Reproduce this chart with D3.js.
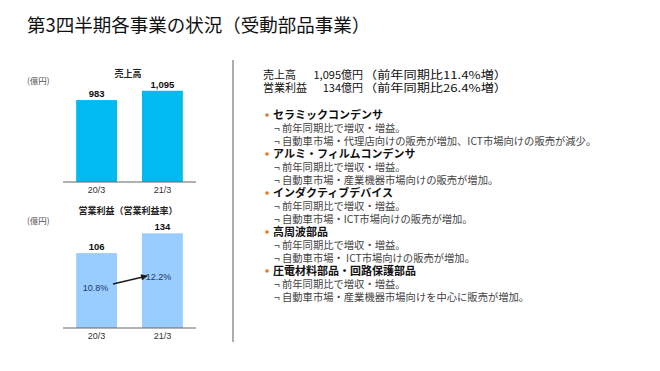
<!DOCTYPE html>
<html>
<head>
<meta charset="utf-8">
<script src="https://cdn.jsdelivr.net/npm/d3@7"></script>
<style>
  body { margin: 0; background: #fff; }
  svg text { font-family: "Noto Sans CJK JP", "Noto Sans", sans-serif; }
</style>
</head>
<body>
<script>
// Data
// =================================
var periods = ["20/3", "21/3"];
var salesValues = [983, 1095];
var salesLabels = ["983", "1,095"];
var profitValues = [106, 134];
var profitLabels = ["106", "134"];
var marginLabels = ["10.8%", "12.2%"];

var summaryNames = ["売上高", "営業利益"];
var summaryValues = ["1,095億円", "134億円"];
var summaryNotes = ["（前年同期比11.4%増）", "（前年同期比26.4%増）"];

var segmentNames = [
    "セラミックコンデンサ",
    "アルミ・フィルムコンデンサ",
    "インダクティブデバイス",
    "高周波部品",
    "圧電材料部品・回路保護部品"
];
var segmentNotes = [
    ["前年同期比で増収・増益。", "自動車市場・代理店向けの販売が増加、ICT市場向けの販売が減少。"],
    ["前年同期比で増収・増益。", "自動車市場・産業機器市場向けの販売が増加。"],
    ["前年同期比で増収・増益。", "自動車市場・ICT市場向けの販売が増加。"],
    ["前年同期比で増収・増益。", "自動車市場・ ICT市場向けの販売が増加。"],
    ["前年同期比で増収・増益。", "自動車市場・産業機器市場向けを中心に販売が増加。"]
];

var svgWidth = 660;
var svgHeight = 371;

var svg = d3.select("body")
    .append("svg")
    .attr("width", svgWidth)
    .attr("height", svgHeight);

svg.append("defs").append("marker")
    .attr("id", "arrow")
    .attr("viewBox", "0 0 10 10")
    .attr("refX", 9)
    .attr("refY", 5)
    .attr("markerWidth", 6)
    .attr("markerHeight", 5)
    .attr("orient", "auto")
    .append("path")
    .attr("d", "M0,0 L10,5 L0,10 z")
    .attr("fill", "#1a1a1a");

// Page title
svg.append("text")
    .attr("x", 27)
    .attr("y", 32)
    .attr("font-size", 18.5)
    .attr("fill", "#111")
    .text("第3四半期各事業の状況（受動部品事業）");

// shared x scale for both bar charts
var xBand = d3.scaleBand()
    .domain(periods)
    .range([63, 196])
    .paddingInner(0.38)
    .paddingOuter(0.2);

function drawBars(opts) {
    var g = svg.append("g");
    var y = d3.scaleLinear().domain(opts.domain).range([opts.base, opts.top]);

    g.append("text")
        .attr("x", 128)
        .attr("y", opts.titleY)
        .attr("text-anchor", "middle")
        .attr("font-size", 9)
        .attr("font-weight", "bold")
        .attr("fill", "#222")
        .text(opts.title);

    g.append("text")
        .attr("x", 27)
        .attr("y", opts.unitY)
        .attr("font-size", 8.5)
        .attr("fill", "#555")
        .text("(億円)");

    g.selectAll(".bar")
        .data(opts.values)
        .enter()
        .append("rect")
        .attr("class", "bar")
        .attr("x", (d, i) => xBand(periods[i]))
        .attr("width", xBand.bandwidth())
        .attr("y", d => y(d))
        .attr("height", d => opts.base - y(d))
        .attr("fill", opts.color);

    g.selectAll(".val")
        .data(opts.labels)
        .enter()
        .append("text")
        .attr("x", (d, i) => xBand(periods[i]) + xBand.bandwidth() / 2)
        .attr("y", (d, i) => y(opts.values[i]) - 3)
        .attr("text-anchor", "middle")
        .attr("font-size", 9.5)
        .attr("font-weight", "bold")
        .attr("fill", "#111")
        .style("font-family", "'Liberation Sans', Arial, sans-serif")
        .text(d => d);

    var axis = g.append("g")
        .attr("transform", `translate(0, ${opts.base})`)
        .call(d3.axisBottom(xBand).tickSize(0).tickPadding(5));
    axis.select(".domain").attr("stroke", "#666").attr("d", "M0,0H133").attr("transform", "translate(63,0)");
    axis.selectAll("text")
        .attr("font-size", 9)
        .attr("fill", "#333")
        .style("font-family", "'Liberation Sans', Arial, sans-serif");
    return y;
}

drawBars({
    title: "売上高", titleY: 77, unitY: 84,
    values: salesValues, labels: salesLabels,
    domain: [0, 1200], base: 182, top: 82,
    color: "#00BBF0"
});

drawBars({
    title: "営業利益（営業利益率）", titleY: 214, unitY: 224,
    values: profitValues, labels: profitLabels,
    domain: [0, 150], base: 328, top: 222,
    color: "#99CCFF"
});

// margin labels + arrow
var mX = [xBand(periods[0]) + xBand.bandwidth() / 2 - 1, xBand(periods[1]) + xBand.bandwidth() / 2 - 4];
var mY = [291, 280];
svg.selectAll(".margin")
    .data(marginLabels)
    .enter()
    .append("text")
    .attr("x", (d, i) => mX[i])
    .attr("y", (d, i) => mY[i])
    .attr("text-anchor", "middle")
    .attr("font-size", 9)
    .attr("fill", "#1f3a66")
    .style("font-family", "'Liberation Sans', Arial, sans-serif")
    .text(d => d);

svg.append("line")
    .attr("x1", 113).attr("y1", 284)
    .attr("x2", 147).attr("y2", 276)
    .attr("stroke", "#1a1a1a")
    .attr("stroke-width", 1.3)
    .attr("marker-end", "url(#arrow)");

// separator
svg.append("line")
    .attr("x1", 233).attr("x2", 233)
    .attr("y1", 60).attr("y2", 342)
    .attr("stroke", "#777")
    .attr("stroke-width", 1.2);

// right side summary
summaryNames.forEach(function (name, i) {
    var yy = 79 + i * 13;
    svg.append("text")
        .attr("x", 263).attr("y", yy)
        .attr("font-size", 11)
        .attr("fill", "#111")
        .text(name);
    svg.append("text")
        .attr("x", 363).attr("y", yy)
        .attr("text-anchor", "end")
        .attr("font-size", 11)
        .attr("fill", "#111")
        .text(summaryValues[i]);
    svg.append("text")
        .attr("x", 364).attr("y", yy)
        .attr("font-size", 11)
        .attr("fill", "#111")
        .attr("textLength", 143)
        .attr("lengthAdjust", "spacingAndGlyphs")
        .text(summaryNotes[i]);
});

var rowY = 119;
segmentNames.forEach(function (name, i) {
    svg.append("circle")
        .attr("cx", 267)
        .attr("cy", rowY - 4)
        .attr("r", 1.8)
        .attr("fill", "#E87722");
    svg.append("text")
        .attr("x", 273)
        .attr("y", rowY)
        .attr("font-size", 11)
        .attr("font-weight", "bold")
        .attr("fill", "#111")
        .text(name);
    rowY += 13;
    segmentNotes[i].forEach(function (note) {
        svg.append("text")
            .attr("x", 274)
            .attr("y", rowY)
            .attr("font-size", 10.3)
            .attr("fill", "#444")
            .text("¬ " + note);
        rowY += 13;
    });
});
</script>
</body>
</html>
